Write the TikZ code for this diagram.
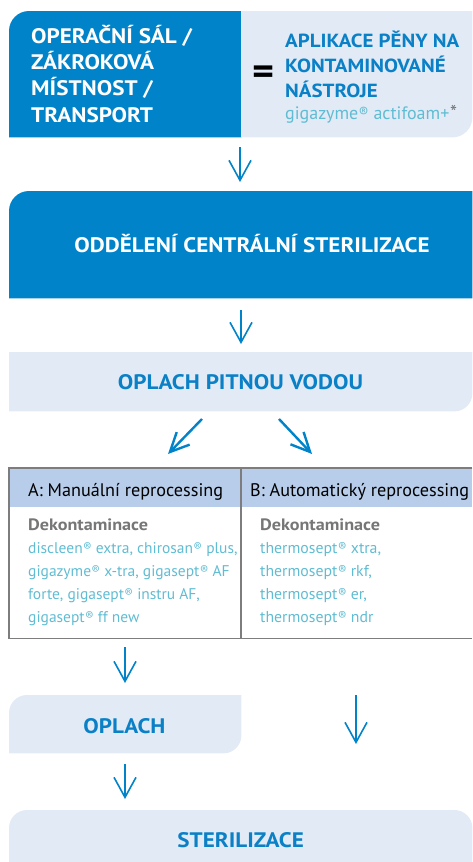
\documentclass[tikz,border=0pt]{standalone}
\usepackage{fontspec}
\usepackage{graphicx}
\setmainfont{PT Sans}[BoldFeatures={FakeStretch=1.1}]
\usetikzlibrary{arrows.meta,calc}
\definecolor{dblue}{RGB}{0,131,201}
\definecolor{tblue}{RGB}{10,128,198}
\definecolor{lfill}{RGB}{226,234,246}
\definecolor{hfill}{RGB}{183,205,234}
\definecolor{teal}{RGB}{96,188,210}
\definecolor{gtext}{RGB}{118,118,118}
\definecolor{gline}{RGB}{125,125,125}
\newcommand\rg{\kern0.02em\raisebox{0.08em}{\scalebox{0.8}{®}}}
\tikzset{
  area/.style={draw=none,inner sep=0pt,rectangle},
  flowarrow/.style={draw=dblue,line width=1.6pt,-{Straight Barb[length=20pt,width=22pt]}},
  diagarrow/.style={draw=dblue,line width=2.4pt,-{Straight Barb[length=19pt,width=18pt]}},
  txt/.style={inner sep=0pt,align=left},
  captxt/.style={inner sep=0pt,anchor=base,font=\fontsize{21}{26}\selectfont\bfseries},
}
\begin{document}
\begin{tikzpicture}[x=1pt,y=-1pt]
\useasboundingbox (0,0) rectangle (472,862);
% ---------- areas (invisible nodes) ----------
\node[area,minimum width=232pt,minimum height=126pt,anchor=north west] (L) at (9,11) {};
\node[area,minimum width=231pt,minimum height=126pt,anchor=north west] (R) at (241,11) {};
\node[area,minimum width=463pt,minimum height=107pt,anchor=north west] (ocs) at (9,191) {};
\node[area,minimum width=463pt,minimum height=59pt,anchor=north west] (pit) at (9,352) {};
\node[area,minimum width=232pt,minimum height=39pt,anchor=north west] (ha) at (9,468) {};
\node[area,minimum width=231pt,minimum height=39pt,anchor=north west] (hb) at (241,468) {};
\node[area,minimum width=232pt,minimum height=131pt,anchor=north west] (ta) at (9,507) {};
\node[area,minimum width=231pt,minimum height=131pt,anchor=north west] (tb) at (241,507) {};
\node[area,minimum width=232pt,minimum height=58pt,anchor=north west] (opl) at (9,695) {};
\node[area,minimum width=463pt,minimum height=52pt,anchor=north west] (ster) at (9,810) {};
% ---------- fills ----------
\fill[dblue] (L.south west) [rounded corners=20pt] -- (L.north west) [sharp corners] -- (L.north east) -- (L.south east) -- cycle;
\fill[lfill] (R.north west) -- (R.north east) [rounded corners=20pt] -- (R.south east) [sharp corners] -- (R.south west) -- cycle;
\fill[dblue] (ocs.south west) [rounded corners=20pt] -- (ocs.north west) [sharp corners] -- (ocs.north east) -- (ocs.south east) -- cycle;
\fill[lfill] (pit.north west) -- (pit.north east) [rounded corners=18pt] -- (pit.south east) [sharp corners] -- (pit.south west) -- cycle;
\fill[hfill] (ha.north west) rectangle (hb.south east);
\draw[gline,line width=1.3pt] (hb.north east) -- (ha.north west) -- (ta.south west) -- (tb.south east);
\draw[gline,line width=1.1pt] (hb.north west) -- (tb.south west);
\fill[lfill] (opl.south west) [rounded corners=18pt] -- (opl.north west) [sharp corners] -- (opl.north east) [rounded corners=18pt] -- (opl.south east) [sharp corners] -- cycle;
\fill[lfill] (ster.south west) [rounded corners=18pt] -- (ster.north west) -- (ster.north east) [sharp corners] -- (ster.south east) -- cycle;
% ---------- texts ----------
\node[txt,anchor=base west,text=white,font=\fontsize{21}{26.3}\selectfont\bfseries] (ltxt) at (31,122)
  {OPERAČNÍ SÁL /\\ZÁKROKOVÁ\\MÍSTNOST /\\TRANSPORT};
\node[inner sep=0pt,font=\fontsize{38}{38}\selectfont\bfseries] (eq) at (263.5,75) {=};
\node[txt,anchor=base west,text=tblue,font=\fontsize{19}{25}\selectfont\bfseries] (rtxt) at (285,97)
  {APLIKACE PĚNY NA\\KONTAMINOVANÉ\\NÁSTROJE};
\node[txt,anchor=base west,text=teal,font=\fontsize{18}{20}\selectfont] (giga) at (285,119)
  {gigazyme\rg{} actifoam+\kern0.05em\scalebox{1.1}{\textcolor{gtext}{*}}};
\node[captxt,text=white] (ocstxt) at (252,252) {ODDĚLENÍ CENTRÁLNÍ STERILIZACE};
\node[captxt,text=tblue] (pittxt) at (240.5,389) {OPLACH PITNOU VODOU};
\node[inner sep=0pt,anchor=base west,font=\fontsize{18.2}{20}\selectfont] (hatxt) at (28,496) {A: Manuální reprocessing};
\node[inner sep=0pt,anchor=base west,font=\fontsize{18.2}{20}\selectfont] (hbtxt) at (250,496) {B: Automatický reprocessing};
\node[txt,anchor=base west,text=gtext,font=\fontsize{16.5}{23}\selectfont\bfseries] (dka) at (28,530) {Dekontaminace};
\node[txt,anchor=base west,text=gtext,font=\fontsize{16.5}{23}\selectfont\bfseries] (dkb) at (260,530) {Dekontaminace};
\node[txt,anchor=base west,text=teal,font=\fontsize{15.5}{23}\selectfont] (pra) at (28,622)
  {discleen\rg{} extra, chirosan\rg{} plus,\\gigazyme\rg{} x-tra, gigasept\rg{} AF\\forte, gigasept\rg{} instru AF,\\gigasept\rg{} ff new};
\node[txt,anchor=base west,text=teal,font=\fontsize{15.8}{23}\selectfont] (prb) at (260,622)
  {thermosept\rg{} xtra,\\thermosept\rg{} rkf,\\thermosept\rg{} er,\\thermosept\rg{} ndr};
\node[captxt,text=tblue] (opltxt) at (124.5,733) {OPLACH};
\node[captxt,text=tblue] (stertxt) at (240.7,847) {STERILIZACE};
% ---------- connectors ----------
\coordinate (a1s) at (240,147);
\coordinate (a1e) at (240,182);
\draw[flowarrow] (a1s) -- (a1e);
\coordinate (a2s) at (241,310);
\coordinate (a2e) at (241,344);
\draw[flowarrow] (a2s) -- (a2e);
\coordinate (d1s) at (202,419);
\coordinate (d1e) at (168,454);
\draw[diagarrow] (d1s) -- (d1e);
\coordinate (d2s) at (279,419);
\coordinate (d2e) at (312,454);
\draw[diagarrow] (d2s) -- (d2e);
\coordinate (a3s) at (125,647);
\coordinate (a3e) at (125,683);
\draw[flowarrow] (a3s) -- (a3e);
\coordinate (a4s) at (356,695);
\coordinate (a4e) at (356,744);
\draw[flowarrow] (a4s) -- (a4e);
\coordinate (a5s) at (125,764);
\coordinate (a5e) at (125,799);
\draw[flowarrow] (a5s) -- (a5e);
\end{tikzpicture}
\end{document}
